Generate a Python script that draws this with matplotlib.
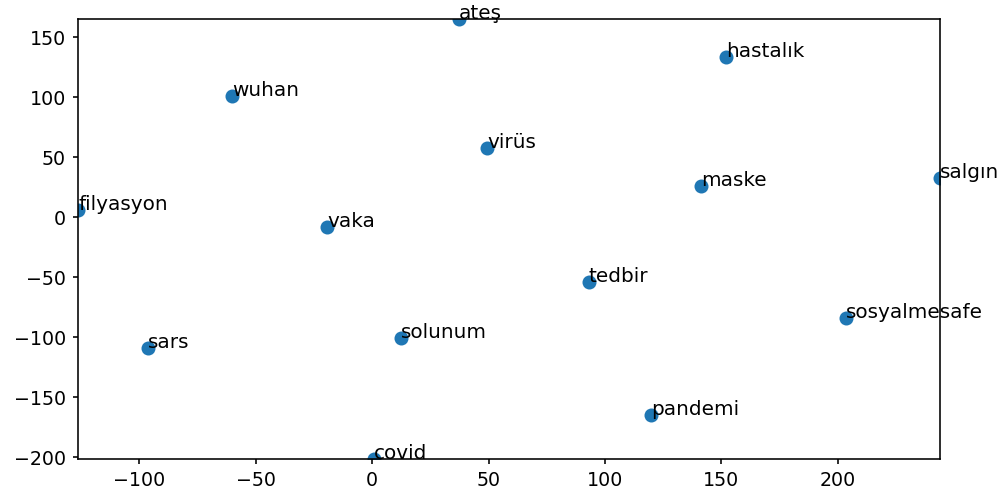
import numpy as np
import matplotlib.pyplot as plt

words = ['filyasyon', 'wuhan', 'ateş', 'virüs', 'hastalık', 'maske', 'salgın',
         'vaka', 'tedbir', 'sosyalmesafe', 'solunum', 'sars', 'pandemi', 'covid']
x = np.array([-126.2, -60.1, 37.3, 49.4, 151.9, 141.2, 243.8,
              -19.3, 93.1, 203.4, 12.4, -96.1, 119.7, 0.9])
y = np.array([5.8, 100.8, 165.0, 57.5, 133.3, 25.8, 32.5,
              -8.3, -54.2, -84.2, -100.8, -109.2, -165.0, -201.7])

plt.rcParams['xtick.major.size'] = 2.5
plt.rcParams['ytick.major.size'] = 2.5
plt.rcParams['xtick.labelsize'] = 9.5
plt.rcParams['ytick.labelsize'] = 9.5

fig = plt.figure(figsize=(1001 / 144, 490 / 144), dpi=144)
plt.scatter(x, y)
for i, w in enumerate(words):
    plt.annotate(w, (x[i], y[i]))

plt.xlim(x.min(), x.max())
plt.ylim(y.min(), y.max())
plt.subplots_adjust(left=0.078, right=0.939, top=0.961, bottom=0.063)

plt.savefig('out.png', dpi=144)
